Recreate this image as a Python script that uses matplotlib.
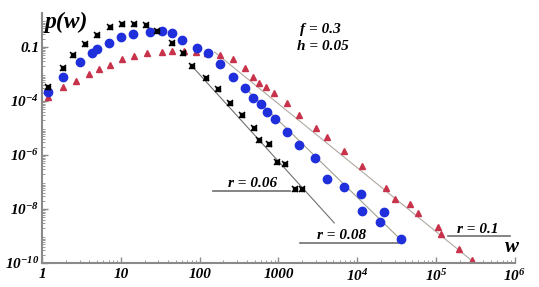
import numpy as np
import matplotlib
matplotlib.use("Agg")
from matplotlib import pyplot as plt
from matplotlib.ticker import FixedLocator, LogLocator, NullFormatter

plt.rcParams['font.family'] = 'Liberation Serif'
plt.rcParams['mathtext.fontset'] = 'custom'
plt.rcParams['mathtext.rm'] = 'Liberation Serif:bold:italic'
plt.rcParams['mathtext.it'] = 'Liberation Serif:bold:italic'

# data, as log10(w) and log10(p)
r06_lw = [0.076, 0.266, 0.392, 0.544, 0.696, 0.861, 1.013, 1.165, 1.316, 1.456, 1.646, 1.785,
          1.899, 2.076, 2.228, 2.392, 2.544, 2.696, 2.759, 2.886, 2.987, 3.089, 3.215, 3.304]
r06_lp = [-3.48, -2.78, -2.30, -1.89, -1.56, -1.26, -1.15, -1.15, -1.19, -1.41, -1.85, -2.22,
          -2.70, -3.15, -3.56, -4.07, -4.52, -5.00, -5.44, -5.59, -6.26, -6.33, -7.26, -7.26]

r08_lw = [0.076, 0.266, 0.481, 0.633, 0.696, 0.848, 1.0, 1.152, 1.367, 1.519, 1.646, 1.772,
          1.962, 2.101, 2.253, 2.418, 2.582, 2.684, 2.785, 2.861, 2.962, 3.114, 3.266, 3.468,
          3.620, 3.835, 4.051, 4.063, 4.342, 4.291, 4.557]
r08_lp = [-3.67, -3.11, -2.56, -2.22, -2.07, -1.85, -1.63, -1.52, -1.44, -1.41, -1.48, -1.74,
          -2.04, -2.22, -2.63, -3.11, -3.52, -3.89, -4.11, -4.41, -4.67, -5.15, -5.63, -6.11,
          -6.89, -7.19, -7.44, -8.07, -8.11, -8.48, -9.11]

r1_lw = [0.076, 0.266, 0.430, 0.595, 0.722, 0.861, 1.013, 1.165, 1.329, 1.519, 1.646, 1.80,
         1.95, 2.10, 2.253, 2.418, 2.582, 2.684, 2.759, 2.848, 2.949, 3.114, 3.266, 3.481,
         3.620, 3.835, 4.063, 4.367, 4.481, 4.671, 4.772, 5.025, 5.063, 5.291, 5.456]
r1_lp = [-3.85, -3.48, -3.26, -3.00, -2.81, -2.67, -2.44, -2.33, -2.22, -2.19, -2.15, -2.15,
         -2.17, -2.22, -2.30, -2.44, -2.78, -3.11, -3.33, -3.48, -3.70, -4.07, -4.52, -5.00,
         -5.33, -5.85, -6.41, -7.22, -7.63, -7.81, -8.15, -8.67, -8.93, -9.48, -9.89]

# power-law fit lines (end points, log10)
fit06_lw, fit06_lp = [1.90, 3.71], [-2.70, -8.52]
fit08_lw, fit08_lp = [2.63, 4.595], [-3.67, -9.26]
fit1_lw, fit1_lp = [2.19, 5.52], [-2.19, -10.07]

xticks = [1, 10, 100, 1000, 1e4, 1e5, 1e6]
xlabels = ['1', '10', '100', '1000', '$10^{4}$', '$10^{5}$', '$10^{6}$']
yticks = [1e-2, 1e-4, 1e-6, 1e-8, 1e-10]
ylabels = ['0.1', '$10^{-4}$', '$10^{-6}$', '$10^{-8}$', '$10^{-10}$']

def p10(a):
    return 10 ** np.array(a)

fig = plt.figure(figsize=(5.39, 2.87), dpi=100)
ax = fig.add_axes([0.078, 0.084, 0.877, 0.871])
ax.set_xscale('log')
ax.set_yscale('log')
ax.set_xlim(1, 1e6)
ax.set_ylim(1e-10, 10 ** -0.74)

gray = '#8a8a8a'
ax.plot(p10(fit06_lw), p10(fit06_lp), color='#707070', lw=0.8, zorder=1)
ax.plot(p10(fit08_lw), p10(fit08_lp), color='#a0a090', lw=0.8, zorder=1)
ax.plot(p10(fit1_lw), p10(fit1_lp), color='#b0a8a0', lw=0.8, zorder=1)

ax.plot(p10(r1_lw), p10(r1_lp), ls='none', marker='^', ms=4.5, color='#c8324a', zorder=2)
ax.plot(p10(r08_lw), p10(r08_lp), ls='none', marker='o', ms=6, color='#1f2fdc', zorder=3)
ax.plot(p10(r06_lw), p10(r06_lp), ls='none', marker='s', ms=3, color='black', zorder=4)
ax.plot(p10(r06_lw), p10(r06_lp), ls='none', marker='x', ms=5, mew=1.1, color='black', zorder=4)

for s in ['top', 'right']:
    ax.spines[s].set_visible(False)
for s in ['left', 'bottom']:
    ax.spines[s].set_color(gray)
    ax.spines[s].set_linewidth(1.5)

ax.xaxis.set_major_locator(FixedLocator(xticks))
ax.set_xticklabels(xlabels)
ax.xaxis.set_minor_locator(LogLocator(base=10, subs=np.arange(2, 10), numticks=20))
ax.xaxis.set_minor_formatter(NullFormatter())
ax.yaxis.set_major_locator(FixedLocator(yticks))
ax.set_yticklabels(ylabels)
ax.yaxis.set_minor_locator(LogLocator(base=10, subs=np.arange(2, 10), numticks=20))
ax.yaxis.set_minor_formatter(NullFormatter())
ax.tick_params(which='both', direction='in', color=gray, labelsize=11)
ax.tick_params(which='major', length=4, width=1)
ax.tick_params(which='minor', length=2, width=0.6)
for lab in ax.get_xticklabels() + ax.get_yticklabels():
    lab.set_fontweight('bold')
    lab.set_fontstyle('italic')
ax.tick_params(axis='x', pad=4)
ax.tick_params(axis='y', pad=2)

bi = dict(fontweight='bold', fontstyle='italic', family='Liberation Serif')
ax.text(0.006, 0.962, 'p(w)', transform=ax.transAxes, fontsize=17, va='center', ha='left', **bi)
ax.text(0.994, 0.064, 'w', transform=ax.transAxes, fontsize=15, va='center', ha='center', **bi)
ax.text(0.545, 0.932, 'f = 0.3', transform=ax.transAxes, fontsize=11, va='center', **bi)
ax.text(0.539, 0.864, 'h = 0.05', transform=ax.transAxes, fontsize=11, va='center', **bi)

labels_r = [('r = 0.06', 0.446, 0.316, 0.362, 0.524, 0.288),
            ('r = 0.08', 0.634, 0.108, 0.545, 0.753, 0.080),
            ('r = 0.1', 0.922, 0.132, 0.858, 0.989, 0.108)]
for txt, tx, ty, x0, x1, ly in labels_r:
    ax.text(tx, ty, txt, transform=ax.transAxes, fontsize=11, ha='center', va='center', **bi)
    ax.plot([x0, x1], [ly, ly], transform=ax.transAxes, color='#707070', lw=1.2, clip_on=False)

fig.savefig('out.png', dpi=100)
